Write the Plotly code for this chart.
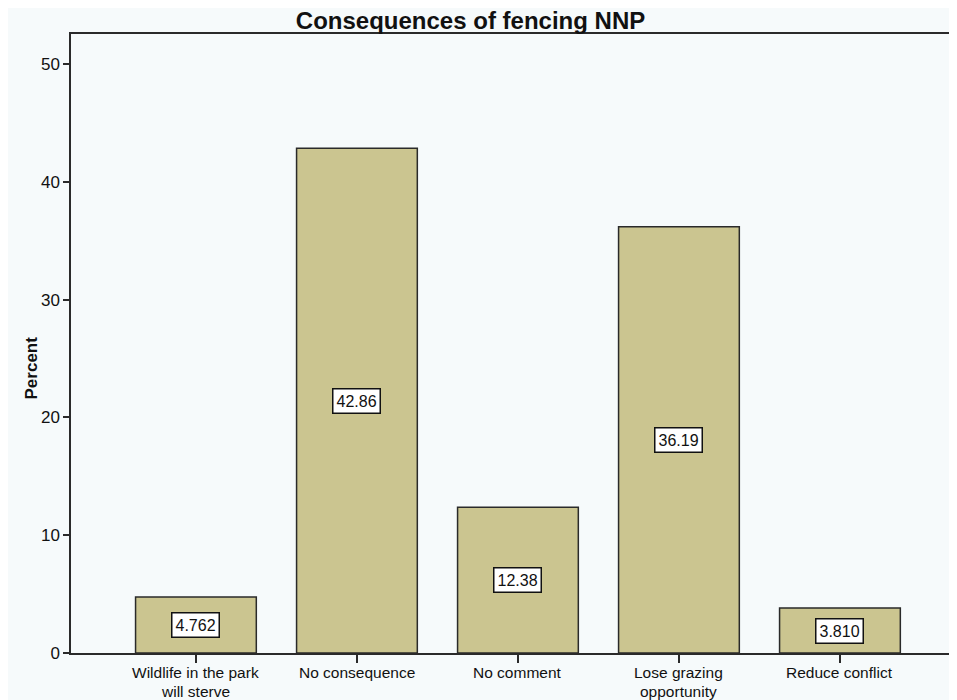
import plotly.graph_objects as go

# category labels, split into first and second line
categories = ["Wildlife in the park", "No consequence", "No comment",
              "Lose grazing", "Reduce conflict"]
categories_line2 = ["will sterve", "", "", "opportunity", ""]
percent = [4.762, 42.86, 12.38, 36.19, 3.810]
value_labels = ["4.762", "42.86", "12.38", "36.19", "3.810"]
y_ticks = [0, 10, 20, 30, 40, 50]

FONT = "Arial, Liberation Sans, sans-serif"
BG = "#f6fafb"
LBL = dict(family=FONT, size=15.5, color="#111")

x_idx = list(range(len(categories)))

fig = go.Figure()
fig.add_trace(go.Bar(
    x=x_idx, y=percent, width=0.75,
    marker=dict(color="#cbc590", line=dict(color="#2a2a2a", width=1.5)),
    hoverinfo="skip",
))

for i, (v, lab) in enumerate(zip(percent, value_labels)):
    fig.add_annotation(
        x=i, y=v / 2, text=lab, showarrow=False,
        font=dict(family=FONT, size=16, color="#111"),
        bgcolor="white", bordercolor="#111", borderwidth=1.5, borderpad=3,
    )

for i, (l1, l2) in enumerate(zip(categories, categories_line2)):
    fig.add_annotation(x=i, xref="x", yref="paper", y=-0.0323, yanchor="middle",
                       text=l1, showarrow=False, font=LBL)
    if l2:
        fig.add_annotation(x=i, xref="x", yref="paper", y=-0.0614, yanchor="middle",
                           text=l2, showarrow=False, font=LBL)

fig.add_annotation(
    xref="paper", yref="paper", x=-0.0576, y=0.4604, text="<b>Percent</b>",
    textangle=-90, showarrow=False, font=dict(family=FONT, size=17, color="#111"),
)

fig.update_layout(
    width=949, height=692,
    margin=dict(l=63, r=0, t=26, b=47),
    paper_bgcolor=BG, plot_bgcolor=BG,
    showlegend=False,
    title=dict(text="<b>Consequences of fencing NNP</b>", x=0.4874, xanchor="center",
               y=0.982, yanchor="middle",
               font=dict(family=FONT, size=24, color="#111")),
    xaxis=dict(
        tickmode="array", tickvals=x_idx, showticklabels=False,
        range=[-0.776, 4.727], showline=True, linecolor="#2a2a2a", linewidth=1.5,
        mirror=True, ticks="outside", ticklen=8, tickwidth=1.5, tickcolor="#2a2a2a",
        showgrid=False, zeroline=False, automargin=False,
    ),
    yaxis=dict(
        tickmode="array", tickvals=y_ticks, range=[0, 52.55],
        showline=True, linecolor="#2a2a2a", linewidth=1.5, mirror=True,
        ticks="outside", ticklen=6, tickwidth=1.5, tickcolor="#2a2a2a",
        showgrid=False, zeroline=False, automargin=False,
        tickfont=dict(family=FONT, size=17, color="#111"),
    ),
)

fig.write_html("out.html")
